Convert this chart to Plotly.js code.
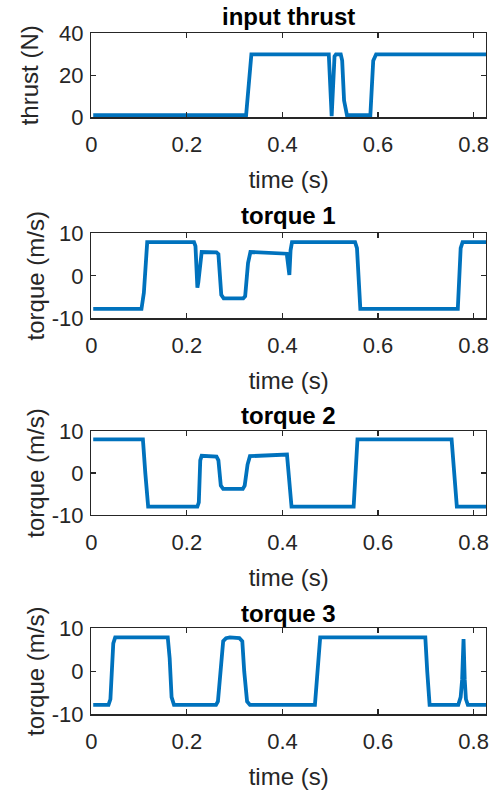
<!DOCTYPE html>
<html>
<head>
<meta charset="utf-8">
<script src="https://cdn.plot.ly/plotly-3.0.1.min.js"></script>
<style>html,body{margin:0;padding:0;background:#fff;}#plot{width:495px;height:797px;}</style>
</head>
<body>
<div id="plot"></div>
<script>
// ---- data ----
var subplotTitles = ['input thrust', 'torque 1', 'torque 2', 'torque 3'];
var xLabel = 'time (s)';
var yLabels = ['thrust (N)', 'torque (m/s)', 'torque (m/s)', 'torque (m/s)'];
var xTickVals = [0, 0.2, 0.4, 0.6, 0.8];
var xTickText = ['0', '0.2', '0.4', '0.6', '0.8'];
var thrustTickVals = [0, 20, 40];
var thrustTickText = ['0', '20', '40'];
var torqueTickVals = [-10, 0, 10];
var torqueTickText = ['-10', '0', '10'];

var thrustT = [0.004, 0.324, 0.335, 0.497, 0.503, 0.509, 0.512, 0.522, 0.525, 0.529, 0.535, 0.584, 0.590, 0.596, 0.826];
var thrustY = [1, 1, 30, 30, 0.5, 29, 30, 30, 27, 8, 1, 1, 27, 30, 30];

var torque1T = [0.004, 0.105, 0.110, 0.117, 0.215, 0.218, 0.222, 0.224, 0.231, 0.262, 0.266, 0.272, 0.277, 0.318, 0.322, 0.328, 0.333, 0.409, 0.4145, 0.417, 0.420, 0.552, 0.556, 0.559, 0.563, 0.767, 0.773, 0.777, 0.826];
var torque1Y = [-7.8, -7.8, -4, 7.9, 7.9, 7.0, -2.8, -1.5, 5.6, 5.5, 5.1, -4.5, -5.3, -5.3, -4.8, 3, 5.6, 5.2, 0.2, 6, 7.9, 7.9, 6.5, 0, -7.8, -7.8, 6.5, 7.9, 7.9];

var torque2T = [0.004, 0.108, 0.113, 0.119, 0.222, 0.225, 0.228, 0.231, 0.262, 0.266, 0.271, 0.276, 0.317, 0.321, 0.327, 0.332, 0.4095, 0.414, 0.419, 0.549, 0.557, 0.754, 0.759, 0.765, 0.826];
var torque2Y = [8, 8, 0, -8, -8, -7, 3, 4.1, 3.9, 3, -3, -3.8, -3.8, -3, 2, 4, 4.4, -3, -8, -8, 8, 8, 0, -8, -8];

var torque3T = [0.004, 0.036, 0.040, 0.043, 0.046, 0.050, 0.160, 0.164, 0.168, 0.173, 0.261, 0.265, 0.270, 0.276, 0.282, 0.290, 0.310, 0.316, 0.320, 0.326, 0.332, 0.468, 0.479, 0.699, 0.703, 0.708, 0.768, 0.773, 0.776, 0.779, 0.7815, 0.784, 0.788, 0.826];
var torque3Y = [-7.8, -7.8, -6.5, 3, 6.5, 7.9, 7.9, 3, -6, -7.8, -7.8, -7, 0, 7, 7.7, 7.9, 7.7, 7, 0, -7, -7.8, -7.8, 7.9, 7.9, 0, -7.8, -7.8, -6, -2, 7.5, -2, -6.5, -7.8, -7.8];

// ---- styling / layout ----
var lineColor = '#0072BD';
var axColor = '#262626';
var fontFam = 'Liberation Sans, Arial, Helvetica, sans-serif';
var W = 495, H = 797;
var xDom = [91.3 / W, 486 / W];
var boxes = [[33.3, 117.3], [233.3, 318.3], [431, 515], [628.3, 714.3]]; // top,bottom px
var titleY = [16.7, 215.7, 415.7, 613.3];

var series = [[thrustT, thrustY], [torque1T, torque1Y], [torque2T, torque2Y], [torque3T, torque3Y]];
var traces = [];
var layout = {
  width: W, height: H,
  margin: {l: 0, r: 0, t: 0, b: 0},
  paper_bgcolor: '#fff', plot_bgcolor: '#fff',
  showlegend: false,
  font: {family: fontFam, color: axColor},
  annotations: []
};

for (var i = 0; i < 4; i++) {
  var sfx = i === 0 ? '' : String(i + 1);
  traces.push({
    x: series[i][0], y: series[i][1],
    xaxis: 'x' + sfx, yaxis: 'y' + sfx,
    type: 'scatter', mode: 'lines',
    line: {color: lineColor, width: 3.8},
    hoverinfo: 'skip'
  });
  var yd = [1 - boxes[i][1] / H, 1 - boxes[i][0] / H];
  layout['xaxis' + sfx] = {
    domain: xDom, anchor: 'y' + sfx, range: [0, 0.826],
    tickmode: 'array', tickvals: xTickVals, ticktext: xTickText,
    ticks: 'inside', ticklen: 5, tickwidth: 1.2, tickcolor: axColor,
    showline: true, linecolor: axColor, linewidth: 1.3, mirror: 'ticks',
    showgrid: false, zeroline: false, fixedrange: true,
    tickfont: {family: fontFam, size: 22, color: axColor},
    ticklabelstandoff: 7,
    title: {text: xLabel, font: {family: fontFam, size: 24, color: axColor}, standoff: 15}
  };
  layout['yaxis' + sfx] = {
    domain: yd, anchor: 'x' + sfx,
    range: i === 0 ? [0, 40] : [-10, 10],
    tickmode: 'array',
    tickvals: i === 0 ? thrustTickVals : torqueTickVals,
    ticktext: i === 0 ? thrustTickText : torqueTickText,
    ticks: 'inside', ticklen: 5, tickwidth: 1.2, tickcolor: axColor,
    showline: true, linecolor: axColor, linewidth: 1.3, mirror: 'ticks',
    showgrid: false, zeroline: false, fixedrange: true,
    tickfont: {family: fontFam, size: 22, color: axColor},
    ticklabelstandoff: 2,
    title: {text: yLabels[i], font: {family: fontFam, size: 24, color: axColor}, standoff: i === 0 ? 13 : 0}
  };
  layout.annotations.push({
    text: '<b>' + subplotTitles[i] + '</b>',
    xref: 'paper', yref: 'paper',
    x: (xDom[0] + xDom[1]) / 2, y: 1 - titleY[i] / H,
    xanchor: 'center', yanchor: 'middle', showarrow: false,
    font: {family: fontFam, size: 24, color: '#000'}
  });
}

Plotly.newPlot('plot', traces, layout, {displayModeBar: false, staticPlot: true});
</script>
</body>
</html>
